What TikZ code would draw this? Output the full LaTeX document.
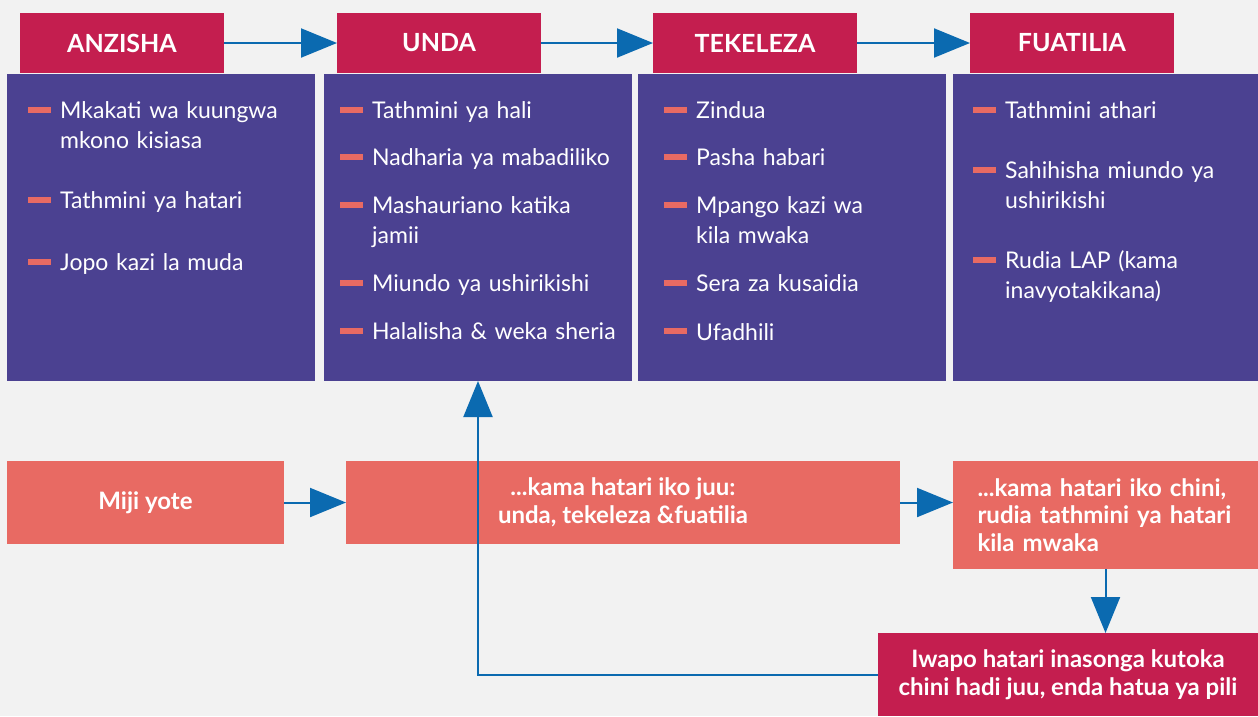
\documentclass[tikz,border=0pt]{standalone}
\usepackage{fontspec}
\setmainfont{Lato}
\newfontfamily\itemfont{Lato}[WordSpace=0.8]
\usetikzlibrary{arrows.meta}
\definecolor{stepred}{HTML}{C41E4F}
\definecolor{bodyblue}{HTML}{4B4191}
\definecolor{riskpink}{HTML}{E86A63}
\definecolor{flowblue}{HTML}{0B6AB0}
\definecolor{pagegrey}{HTML}{F2F2F2}
\newcommand{\riskitem}[4]{
    \node[itemtext] (#1) at (#2,#3) {#4};
    \draw[itembar] (#1.base west) ++(-32,-9) -- ++(23,0);
}

\begin{document}
\begin{tikzpicture}[x=1pt,y=-1pt,
    header/.style={fill=stepred,text=white,font=\fontsize{25}{29}\selectfont\bfseries,anchor=north west,minimum width=204pt,minimum height=60pt,inner sep=0pt,outer sep=0pt},
    body/.style={fill=bodyblue,anchor=north west,minimum height=307pt,inner sep=0pt,outer sep=0pt},
    riskbox/.style={fill=riskpink,text=white,font=\fontsize{24}{27.5}\selectfont\bfseries,anchor=north west,inner sep=0pt,outer sep=0pt,align=center},
    itemtext/.style={text=white,font=\itemfont\fontsize{23}{30}\selectfont,anchor=base west,inner sep=0pt,text width=250pt,align=left},
    itembar/.style={riskpink,line width=6pt},
    flow/.style={flowblue,line width=2pt,-{Triangle[length=36pt,width=29pt]}}]
    \useasboundingbox (0,0) rectangle (1258,716);
    \fill[pagegrey] (0,0) rectangle (1258,716);
    % hatua nne
    \node[header] (anzisha) at (20,13) {ANZISHA};
    \node[header] (unda) at (337,13) {UNDA};
    \node[header] (tekeleza) at (653,13) {TEKELEZA};
    \node[header] (fuatilia) at (970,13) {FUATILIA};
    \node[body,minimum width=308pt] (anzishabody) at (7,74) {};
    \node[body,minimum width=308pt] (undabody) at (324,74) {};
    \node[body,minimum width=308pt] (tekelezabody) at (638,74) {};
    \node[body,minimum width=305pt] (fuatiliabody) at (953,74) {};
    \draw[flow] (anzisha) -- (unda);
    \draw[flow] (unda) -- (tekeleza);
    \draw[flow] (tekeleza) -- (fuatilia);
    % orodha
    \riskitem{a1}{60}{118.5}{Mkakati wa kuungwa\\mkono kisiasa}
    \riskitem{a2}{60}{208.5}{Tathmini ya hatari}
    \riskitem{a3}{60}{270.5}{Jopo kazi la muda}
    \riskitem{u1}{372}{118.5}{Tathmini ya hali}
    \riskitem{u2}{372}{165.5}{Nadharia ya mabadiliko}
    \riskitem{u3}{372}{213.5}{Mashauriano katika\\jamii}
    \riskitem{u4}{372}{291.5}{Miundo ya ushirikishi}
    \riskitem{u5}{372}{339.5}{Halalisha \& weka sheria}
    \riskitem{t1}{696}{118.5}{Zindua}
    \riskitem{t2}{696}{165.5}{Pasha habari}
    \riskitem{t3}{696}{213.5}{Mpango kazi wa\\kila mwaka}
    \riskitem{t4}{696}{291.5}{Sera za kusaidia}
    \riskitem{t5}{696}{340}{Ufadhili}
    \riskitem{f1}{1005}{118.5}{Tathmini athari}
    \riskitem{f2}{1005}{178.5}{Sahihisha miundo ya\\ushirikishi}
    \riskitem{f3}{1005}{268.5}{Rudia LAP (kama\\inavyotakikana)}
    % hatari
    \node[riskbox,minimum width=277pt,minimum height=83pt] (miji) at (7,461) {Miji yote};
    \node[riskbox,minimum width=554pt,minimum height=83pt] (kamajuu) at (346,461) {...kama hatari iko juu:\\unda, tekeleza \&fuatilia};
    \node[riskbox,minimum height=108pt,text width=256pt,inner xsep=24.5pt,align=left] (kamachini) at (953,461) {...kama hatari iko chini,\\rudia tathmini ya hatari\\kila mwaka};
    \node[riskbox,fill=stepred,minimum width=380pt,minimum height=83pt] (iwapo) at (878,633) {Iwapo hatari inasonga kutoka\\chini hadi juu, enda hatua ya pili};
    \draw[flow] (miji) -- (kamajuu);
    \draw[flow] (kamajuu.east) -- (kamajuu.east -| kamachini.west);
    \draw[flow] (kamachini) -- (kamachini.south |- iwapo.north);
    \draw[flow] (iwapo.west) -| (undabody.south);
\end{tikzpicture}
\end{document}
